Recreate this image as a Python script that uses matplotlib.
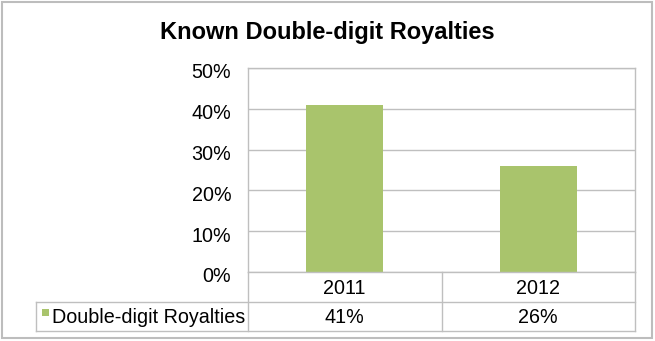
import matplotlib
matplotlib.use("Agg")
import matplotlib.pyplot as plt
from matplotlib.lines import Line2D
from matplotlib.patches import Rectangle
from matplotlib.transforms import ScaledTranslation

title = "Known Double-digit Royalties"
categories = ["2011", "2012"]
series_name = "Double-digit Royalties"
values = [41, 26]
yticks = [0, 10, 20, 30, 40, 50]
ytick_labels = ["0%", "10%", "20%", "30%", "40%", "50%"]

W, H = 655, 341
bar_color = "#A9C46C"
grid_color = "#BFBFBF"
font = ["Liberation Sans", "DejaVu Sans"]
plt.rcParams["font.family"] = font
fs = 14.2

fig = plt.figure(figsize=(W / 100, H / 100), dpi=100)
fig.patch.set_facecolor("white")

def fx(x):
    return x / W

def fy(y):
    return 1 - y / H

# outer frame
fig.add_artist(Rectangle((fx(2), fy(338)), fx(650), 336 / H, transform=fig.transFigure,
                         fill=False, edgecolor="#BDBDBD", lw=1.5))

left, right, top, bottom = 248, 635, 68, 272
ax = fig.add_axes([fx(left), fy(bottom), fx(right - left), (bottom - top) / H])
x = list(range(len(categories)))
ax.bar(x, values, width=0.4, color=bar_color, zorder=3)
ax.set_xlim(-0.5, len(categories) - 0.5)
ax.set_ylim(0, 50)
ax.set_yticks(yticks)
ax.set_yticklabels(ytick_labels, fontsize=fs)
ax.set_xticks([])
ax.tick_params(axis="y", length=0, pad=12)
offset = ScaledTranslation(0, -3 / 100, fig.dpi_scale_trans)
for lab in ax.get_yticklabels():
    lab.set_transform(lab.get_transform() + offset)
ax.grid(axis="y", color=grid_color, lw=1, zorder=0)
for s in ["left", "right", "top"]:
    ax.spines[s].set_color(grid_color)
    ax.spines[s].set_linewidth(1)
ax.spines["bottom"].set_visible(False)

fig.text(0.5, fy(33), title, ha="center", va="center", fontsize=17, fontweight="bold")

# data table
row1_top, row1_bot, row2_bot = 272, 302, 331
tbl_left = 36
col_w = (right - left) / len(categories)
col_edges = [left + i * col_w for i in range(len(categories) + 1)]

def hline(y, x0, x1):
    fig.add_artist(Line2D([fx(x0), fx(x1)], [fy(y), fy(y)], transform=fig.transFigure,
                          color=grid_color, lw=1))

def vline(x_, y0, y1):
    fig.add_artist(Line2D([fx(x_), fx(x_)], [fy(y0), fy(y1)], transform=fig.transFigure,
                          color=grid_color, lw=1))

hline(row1_top, left, right)
hline(row1_bot, tbl_left, right)
hline(row2_bot, tbl_left, right)
for ce in col_edges:
    vline(ce, row1_top, row2_bot)
vline(tbl_left, row1_bot, row2_bot)

for i, (c, v) in enumerate(zip(categories, values)):
    cx = (col_edges[i] + col_edges[i + 1]) / 2
    fig.text(fx(cx), fy((row1_top + row1_bot) / 2 + 1), c, ha="center", va="center", fontsize=fs)
    fig.text(fx(cx), fy((row1_bot + row2_bot) / 2 + 1), f"{v}%", ha="center", va="center", fontsize=fs)

ry = (row1_bot + row2_bot) / 2
fig.add_artist(Rectangle((fx(42), fy(316)), 7 / W, 7 / H, transform=fig.transFigure,
                         facecolor=bar_color, edgecolor="none"))
fig.text(fx(52), fy(ry + 1), series_name, ha="left", va="center", fontsize=fs)

fig.savefig("out.png", dpi=100, facecolor="white")
